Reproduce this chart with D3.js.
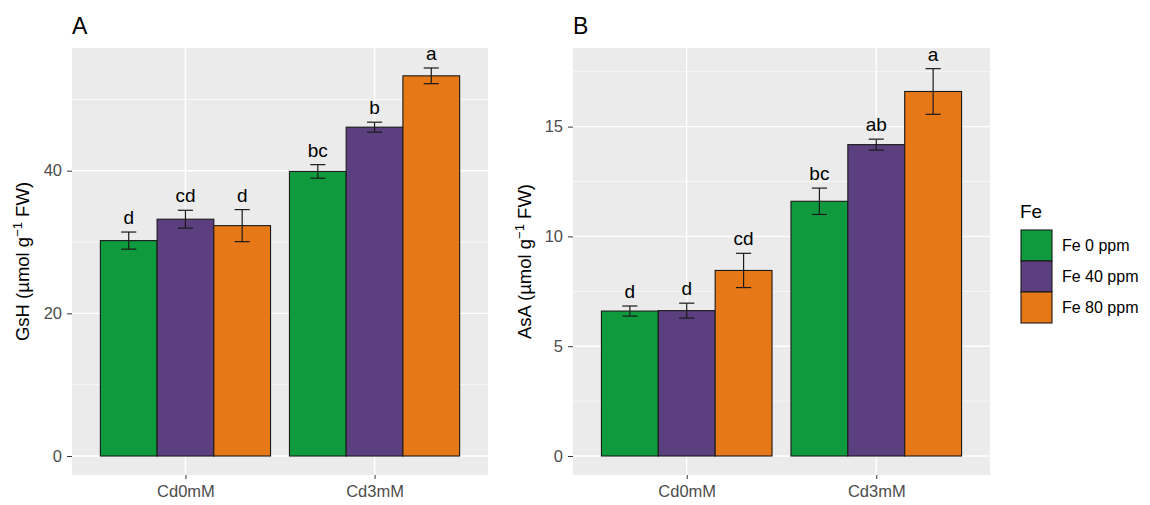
<!DOCTYPE html>
<html>
<head>
<meta charset="utf-8">
<script src="https://cdn.jsdelivr.net/npm/d3@7"></script>
<style>
  body { margin: 0; background: white; }
  svg { display: block; font-family: "Liberation Sans", Arial, sans-serif; }
</style>
</head>
<body>
<svg id="fig" width="1150" height="505"></svg>
<script>
'use strict';

// categories
var cd_levels = ['Cd0mM', 'Cd3mM'];
var fe_levels = ['Fe 0 ppm', 'Fe 40 ppm', 'Fe 80 ppm'];
var fe_colors = ['#0f9a3e', '#5b3f7e', '#e67817'];

// panel A: GsH, rows = Cd level, cols = Fe level
var gsh_mean = [[30.2, 33.2, 32.3], [39.9, 46.1, 53.3]];
var gsh_se = [[1.2, 1.25, 2.25], [0.95, 0.7, 1.1]];
var gsh_letters = [['d', 'cd', 'd'], ['bc', 'b', 'a']];
var gsh_ticks = [0, 20, 40];
var gsh_minor = [10, 30, 50];

// panel B: AsA
var asa_mean = [[6.6, 6.62, 8.45], [11.6, 14.18, 16.6]];
var asa_se = [[0.23, 0.34, 0.78], [0.6, 0.25, 1.04]];
var asa_letters = [['d', 'd', 'cd'], ['bc', 'ab', 'a']];
var asa_ticks = [0, 5, 10, 15];
var asa_minor = [2.5, 7.5, 12.5, 17.5];

var svg = d3.select('#fig');

var panel_top = 48,
    panel_bottom = 475,
    bar_w = 0.3,
    cap_half = 0.04,   // half width of the error bar caps, in x units
    color_bg = '#ebebeb',
    color_axis = '#4d4d4d';

function draw_panel(opt) {
    var g = svg.append('g').attr('class', 'panel');

    var x = d3.scaleLinear().domain([0.4, 2.6]).range([opt.left, opt.right]);
    var y = d3.scaleLinear().domain(opt.ydomain).range([panel_bottom, panel_top]);

    // background
    g.append('rect')
        .attr('x', opt.left)
        .attr('y', panel_top)
        .attr('width', opt.right - opt.left)
        .attr('height', panel_bottom - panel_top)
        .attr('fill', color_bg);

    // grid lines
    g.selectAll('line.minor')
        .data(opt.minor)
        .enter()
        .append('line')
        .attr('x1', opt.left).attr('x2', opt.right)
        .attr('y1', function(d) { return y(d); })
        .attr('y2', function(d) { return y(d); })
        .attr('stroke', 'white')
        .attr('stroke-width', 0.7);
    g.selectAll('line.major')
        .data(opt.ticks)
        .enter()
        .append('line')
        .attr('x1', opt.left).attr('x2', opt.right)
        .attr('y1', function(d) { return y(d); })
        .attr('y2', function(d) { return y(d); })
        .attr('stroke', 'white')
        .attr('stroke-width', 1.4);
    g.selectAll('line.vmajor')
        .data(cd_levels)
        .enter()
        .append('line')
        .attr('x1', function(d, i) { return x(i + 1); })
        .attr('x2', function(d, i) { return x(i + 1); })
        .attr('y1', panel_top).attr('y2', panel_bottom)
        .attr('stroke', 'white')
        .attr('stroke-width', 1.4);

    // flatten data
    var rows = [];
    for (let i = 0; i < cd_levels.length; i++) {
        for (let j = 0; j < fe_levels.length; j++) {
            rows.push({
                i: i,
                j: j,
                xc: i + 1 + (j - 1) * bar_w,
                val: opt.mean[i][j],
                se: opt.se[i][j],
                lab: opt.letters[i][j]
            });
        }
    }

    // bars
    g.selectAll('rect.bar')
        .data(rows)
        .enter()
        .append('rect')
        .attr('class', 'bar')
        .attr('x', function(d) { return x(d.xc - bar_w / 2); })
        .attr('width', function(d) { return x(d.xc + bar_w / 2) - x(d.xc - bar_w / 2); })
        .attr('y', function(d) { return y(d.val); })
        .attr('height', function(d) { return y(0) - y(d.val); })
        .attr('fill', function(d) { return fe_colors[d.j]; })
        .attr('stroke', '#1a1a1a')
        .attr('stroke-width', 1.1);

    // error bars
    var eb = g.selectAll('g.eb')
        .data(rows)
        .enter()
        .append('g')
        .attr('class', 'eb')
        .attr('stroke', '#1a1a1a')
        .attr('stroke-width', 1.2);
    eb.append('line')
        .attr('x1', function(d) { return x(d.xc); })
        .attr('x2', function(d) { return x(d.xc); })
        .attr('y1', function(d) { return y(d.val + d.se); })
        .attr('y2', function(d) { return y(d.val - d.se); });
    eb.append('line')
        .attr('x1', function(d) { return x(d.xc - cap_half); })
        .attr('x2', function(d) { return x(d.xc + cap_half); })
        .attr('y1', function(d) { return y(d.val + d.se); })
        .attr('y2', function(d) { return y(d.val + d.se); });
    eb.append('line')
        .attr('x1', function(d) { return x(d.xc - cap_half); })
        .attr('x2', function(d) { return x(d.xc + cap_half); })
        .attr('y1', function(d) { return y(d.val - d.se); })
        .attr('y2', function(d) { return y(d.val - d.se); });

    // significance letters
    g.selectAll('text.lab')
        .data(rows)
        .enter()
        .append('text')
        .attr('x', function(d) { return x(d.xc); })
        .attr('y', function(d) { return y(d.val + d.se) - 8; })
        .attr('text-anchor', 'middle')
        .attr('font-size', 19)
        .attr('fill', 'black')
        .text(function(d) { return d.lab; });

    // y axis
    var yax = g.append('g')
        .attr('transform', 'translate(' + opt.left + ',0)')
        .call(d3.axisLeft(y).tickValues(opt.ticks).tickSize(5).tickPadding(5));
    yax.select('.domain').remove();
    yax.selectAll('line').attr('stroke', '#333');
    yax.selectAll('text').attr('fill', color_axis).attr('font-size', 16.5)
        .attr('font-family', null);

    // x axis
    var xax = g.append('g')
        .attr('transform', 'translate(0,' + panel_bottom + ')')
        .call(d3.axisBottom(x).tickValues([1, 2]).tickSize(4).tickPadding(6)
            .tickFormat(function(d) { return cd_levels[d - 1]; }));
    xax.select('.domain').remove();
    xax.selectAll('line').attr('stroke', '#333');
    xax.selectAll('text').attr('fill', color_axis).attr('font-size', 16.5)
        .attr('font-family', null);

    // y title
    var ty = (panel_top + panel_bottom) / 2;
    var yt = g.append('text')
        .attr('transform', 'translate(' + opt.ytitle_x + ',' + ty + ') rotate(-90)')
        .attr('text-anchor', 'middle')
        .attr('font-size', 18.5)
        .attr('fill', 'black');
    yt.append('tspan').text(opt.ytitle + ' (\u00b5mol g');
    yt.append('tspan').attr('font-size', 13).attr('dy', -7).text('\u22121');
    yt.append('tspan').attr('dy', 7).text(' FW)');

    // panel tag
    g.append('text')
        .attr('x', opt.left)
        .attr('y', 34)
        .attr('font-size', 23)
        .attr('fill', 'black')
        .text(opt.tag);
}

draw_panel({
    left: 72, right: 488,
    ydomain: [-2.66, 57.2],
    ticks: gsh_ticks, minor: gsh_minor,
    mean: gsh_mean, se: gsh_se, letters: gsh_letters,
    ytitle: 'GsH', ytitle_x: 29, tag: 'A'
});

draw_panel({
    left: 573, right: 990,
    ydomain: [-0.865, 18.58],
    ticks: asa_ticks, minor: asa_minor,
    mean: asa_mean, se: asa_se, letters: asa_letters,
    ytitle: 'AsA', ytitle_x: 531, tag: 'B'
});

// legend
var leg = svg.append('g').attr('class', 'legend');
leg.append('text')
    .attr('x', 1020)
    .attr('y', 218)
    .attr('font-size', 19)
    .attr('fill', 'black')
    .text('Fe');
var key_h = 31;
var items = leg.selectAll('g.item')
    .data(fe_levels)
    .enter()
    .append('g')
    .attr('transform', function(d, i) { return 'translate(1021,' + (230 + i * key_h) + ')'; });
items.append('rect')
    .attr('width', 31)
    .attr('height', key_h)
    .attr('fill', function(d, i) { return fe_colors[i]; })
    .attr('stroke', '#1a1a1a')
    .attr('stroke-width', 1.1);
items.append('text')
    .attr('x', 41)
    .attr('y', key_h / 2)
    .attr('dy', '0.36em')
    .attr('font-size', 16)
    .attr('fill', 'black')
    .text(function(d) { return d; });
</script>
</body>
</html>
